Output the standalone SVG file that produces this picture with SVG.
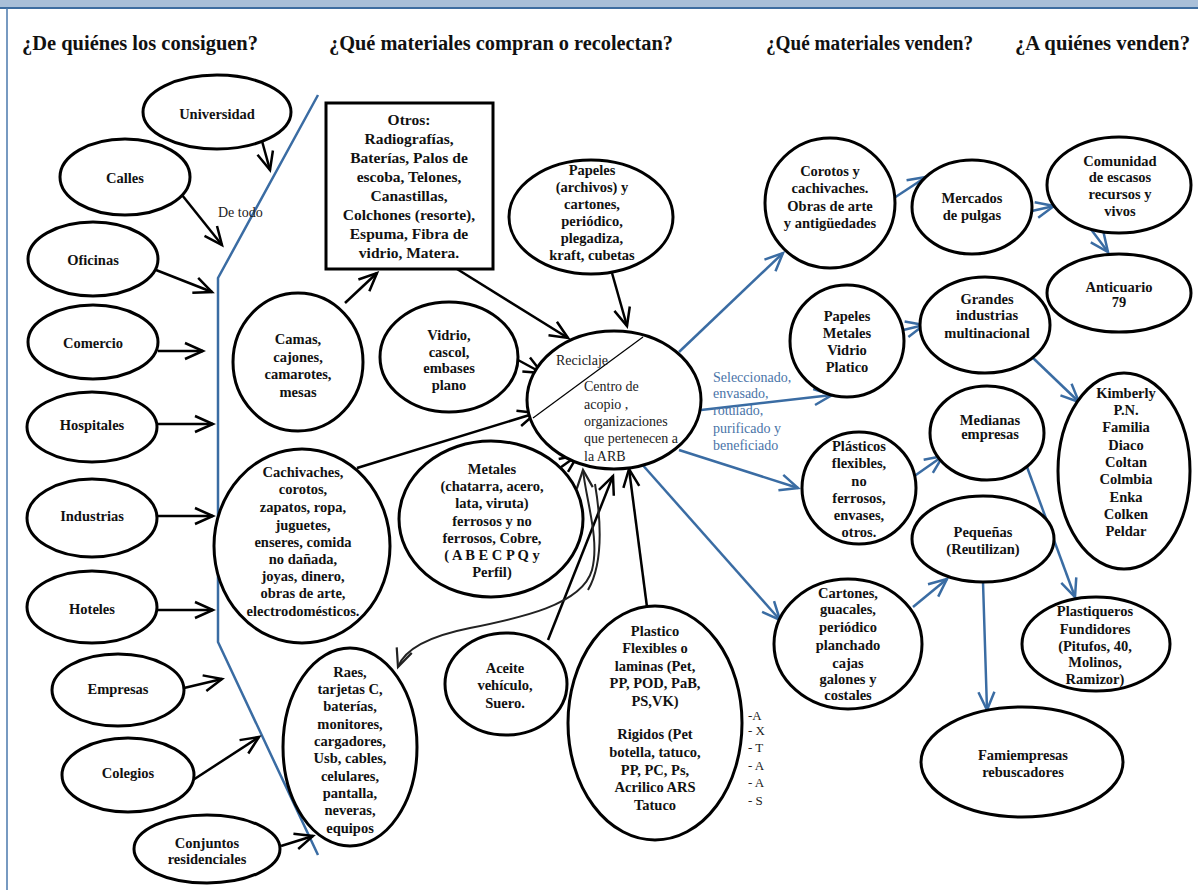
<svg xmlns="http://www.w3.org/2000/svg" width="1198" height="890" viewBox="0 0 1198 890">
  <style>
    .n ellipse, .n rect { fill: #fff; stroke: #000; stroke-width: 3; }
    .t { font-family: "Liberation Serif", "Times New Roman", serif; font-weight: 700; font-size: 14.5px; text-anchor: middle; fill: #111; }
    .big { font-size: 15.5px; }
    .h { font-family: "Liberation Serif", "Times New Roman", serif; font-weight: 700; font-size: 20px; fill: #111; }
    .plain { font-family: "Liberation Serif", "Times New Roman", serif; font-size: 14px; fill: #222; }
    .small { font-size: 13px; }
    .blue { fill: #4a74a8; }
    .k { fill: none; stroke: #000; stroke-width: 2.5; marker-end: url(#ah); }
    .b { fill: none; stroke: #3a6ca3; stroke-width: 2.5; marker-end: url(#ahb); }
    .c { fill: none; stroke: #222; stroke-width: 2; }
  </style>
  <defs>
    <marker id="ah" markerUnits="userSpaceOnUse" viewBox="-3 -3 24 22" markerWidth="24" markerHeight="22" refX="18" refY="8" orient="auto">
      <path d="M0,0 L18,8 L0,16" fill="none" stroke="#000" stroke-width="2.5"/>
    </marker>
    <marker id="ahb" markerUnits="userSpaceOnUse" viewBox="-3 -3 24 22" markerWidth="24" markerHeight="22" refX="18" refY="8" orient="auto">
      <path d="M0,0 L18,8 L0,16" fill="none" stroke="#3a6ca3" stroke-width="2.5"/>
    </marker>
    <marker id="ahc" markerUnits="userSpaceOnUse" viewBox="-3 -3 24 22" markerWidth="24" markerHeight="22" refX="18" refY="8" orient="auto-start-reverse">
      <path d="M0,0 L18,8 L0,16" fill="none" stroke="#222" stroke-width="2.2"/>
    </marker>
  </defs>

  <!-- page frame -->
  <rect x="0" y="0" width="1198" height="890" fill="#fff"/>
  <rect x="0" y="0" width="1198" height="8" fill="#a9bfd8"/>
  <line x1="0" y1="8" x2="1198" y2="8" stroke="#3e6da0" stroke-width="2"/>
  <line x1="7" y1="8" x2="7" y2="890" stroke="#4a78ac" stroke-width="1.5"/>

  <!-- column headings -->
  <g id="headings">
    <text class="h" x="22" y="50" textLength="236" lengthAdjust="spacingAndGlyphs">¿De quiénes los consiguen?</text>
    <text class="h" x="329" y="50" textLength="344" lengthAdjust="spacingAndGlyphs">¿Qué materiales compran o recolectan?</text>
    <text class="h" x="766" y="50" textLength="207" lengthAdjust="spacingAndGlyphs">¿Qué materiales venden?</text>
    <text class="h" x="1015" y="50" textLength="175" lengthAdjust="spacingAndGlyphs">¿A quiénes venden?</text>
  </g>

  <!-- dividing line between sources and materials -->
  <polyline points="318,95 218,278 218,642 318,855" fill="none" stroke="#3a6ca3" stroke-width="2.5"/>
  <text class="plain" x="218" y="217">De todo</text>

  <!-- connectors -->
  <g id="connectors">
    <line class="k" x1="262" y1="141" x2="270" y2="170"/>
    <line class="k" x1="182" y1="195" x2="222" y2="245"/>
    <line class="k" x1="156" y1="270" x2="212" y2="292"/>
    <line class="k" x1="158" y1="351" x2="203" y2="351"/>
    <line class="k" x1="158" y1="424" x2="213" y2="424"/>
    <line class="k" x1="158" y1="516" x2="213" y2="516"/>
    <line class="k" x1="158" y1="610" x2="213" y2="610"/>
    <line class="k" x1="184" y1="688" x2="222" y2="679"/>
    <line class="k" x1="193" y1="780" x2="259" y2="737"/>
    <line class="k" x1="281" y1="846" x2="313" y2="836"/>

    <line class="k" x1="345" y1="303" x2="377" y2="273"/>
    <line class="k" x1="457" y1="269" x2="568" y2="338"/>
    <line class="k" x1="612" y1="273" x2="627" y2="326"/>
    <line class="k" x1="518" y1="360" x2="542" y2="373"/>
    <line class="k" x1="357" y1="468" x2="536" y2="413"/>
    <line class="k" x1="557" y1="470" x2="578" y2="455"/>
    <line class="k" x1="548" y1="640" x2="613" y2="476"/>
    <line class="k" x1="647" y1="607" x2="629" y2="469"/>

    <path class="c" d="M583,470 C586,500 600,540 592,570 C582,605 520,618 470,628 C430,636 405,648 398,667" marker-start="url(#ahc)" marker-end="url(#ahc)"/>
    <path class="c" d="M595,484 C601,520 604,562 588,590"/>

    <line class="b" x1="679" y1="352" x2="783" y2="253"/>
    <line class="b" x1="894" y1="198" x2="926" y2="177"/>
    <line class="b" x1="1023" y1="213" x2="1054" y2="206"/>
    <line class="b" x1="1090" y1="228" x2="1108" y2="252"/>
    <line class="b" x1="701" y1="410" x2="832" y2="395"/>
    <line class="b" x1="895" y1="332" x2="924" y2="325"/>
    <line class="b" x1="1032" y1="357" x2="1079" y2="402"/>
    <line class="b" x1="679" y1="450" x2="798" y2="488"/>
    <line class="b" x1="913" y1="477" x2="943" y2="456"/>
    <line class="b" x1="1027" y1="467" x2="1075" y2="597"/>
    <line class="b" x1="640" y1="462" x2="780" y2="620"/>
    <line class="b" x1="913" y1="607" x2="947" y2="579"/>
    <line class="b" x1="983" y1="582" x2="987" y2="710"/>
  </g>

  <!-- sources -->
  <g id="n-universidad" class="n"><ellipse cx="217" cy="112" rx="74" ry="37"/><text class="t" x="217" y="119">Universidad</text></g>
  <g id="n-calles" class="n"><ellipse cx="125" cy="177" rx="65" ry="38"/><text class="t" x="125" y="183">Calles</text></g>
  <g id="n-oficinas" class="n"><ellipse cx="93" cy="259" rx="65" ry="37"/><text class="t" x="93" y="265">Oficinas</text></g>
  <g id="n-comercio" class="n"><ellipse cx="93" cy="342" rx="65" ry="37"/><text class="t" x="93" y="348">Comercio</text></g>
  <g id="n-hospitales" class="n"><ellipse cx="92" cy="427" rx="65" ry="35"/><text class="t" x="92" y="430">Hospitales</text></g>
  <g id="n-industrias" class="n"><ellipse cx="92" cy="518" rx="65" ry="39"/><text class="t" x="92" y="521">Industrias</text></g>
  <g id="n-hoteles" class="n"><ellipse cx="92" cy="607" rx="65" ry="36"/><text class="t" x="92" y="614">Hoteles</text></g>
  <g id="n-empresas" class="n"><ellipse cx="118" cy="690" rx="66" ry="36"/><text class="t" x="118" y="694">Empresas</text></g>
  <g id="n-colegios" class="n"><ellipse cx="128" cy="775" rx="66" ry="37"/><text class="t" x="128" y="778">Colegios</text></g>
  <g id="n-conjuntos" class="n"><ellipse cx="207" cy="849" rx="73" ry="34"/><text class="t" x="207" y="848">Conjuntos</text><text class="t" x="207" y="864">residenciales</text></g>

  <!-- materials bought or collected -->
  <g id="n-otros" class="n">
    <rect x="326" y="103" width="167" height="166"/>
    <text class="t big" x="409" y="125">Otros:</text>
    <text class="t big" x="409" y="144">Radiografías,</text>
    <text class="t big" x="409" y="163">Baterías, Palos de</text>
    <text class="t big" x="409" y="182">escoba, Telones,</text>
    <text class="t big" x="409" y="201">Canastillas,</text>
    <text class="t big" x="409" y="220">Colchones (resorte),</text>
    <text class="t big" x="409" y="239">Espuma, Fibra de</text>
    <text class="t big" x="409" y="258">vidrio, Matera.</text>
  </g>
  <g id="n-papeles" class="n">
    <ellipse cx="591" cy="217" rx="82" ry="57"/>
    <text class="t" x="592" y="175">Papeles</text>
    <text class="t" x="592" y="192">(archivos) y</text>
    <text class="t" x="592" y="209">cartones,</text>
    <text class="t" x="592" y="226">periódico,</text>
    <text class="t" x="592" y="243">plegadiza,</text>
    <text class="t" x="592" y="260">kraft, cubetas</text>
  </g>
  <g id="n-camas" class="n">
    <ellipse cx="298" cy="362" rx="65" ry="69"/>
    <text class="t" x="298" y="344">Camas,</text>
    <text class="t" x="298" y="362">cajones,</text>
    <text class="t" x="298" y="379">camarotes,</text>
    <text class="t" x="298" y="397">mesas</text>
  </g>
  <g id="n-vidrio" class="n">
    <ellipse cx="449" cy="357" rx="69" ry="55"/>
    <text class="t" x="449" y="340">Vidrio,</text>
    <text class="t" x="449" y="357">cascol,</text>
    <text class="t" x="449" y="373">embases</text>
    <text class="t" x="449" y="390">plano</text>
  </g>
  <g id="n-centro" class="n">
    <ellipse cx="614" cy="400" rx="87" ry="69"/>
    <line x1="643" y1="337" x2="533" y2="418" stroke="#000" stroke-width="1.2"/>
    <text class="plain" x="556" y="365">Reciclaje</text>
    <text class="plain" x="584" y="391">Centro de</text>
    <text class="plain" x="584" y="409">acopio ,</text>
    <text class="plain" x="584" y="426">organizaciones</text>
    <text class="plain" x="584" y="443">que pertenecen a</text>
    <text class="plain" x="584" y="461">la ARB</text>
  </g>
  <g id="n-cachivaches" class="n">
    <ellipse cx="302" cy="546" rx="88" ry="97"/>
    <text class="t" x="303" y="477">Cachivaches,</text>
    <text class="t" x="303" y="494">corotos,</text>
    <text class="t" x="303" y="512">zapatos, ropa,</text>
    <text class="t" x="303" y="530">juguetes,</text>
    <text class="t" x="303" y="547">enseres, comida</text>
    <text class="t" x="303" y="564">no dañada,</text>
    <text class="t" x="303" y="581">joyas, dinero,</text>
    <text class="t" x="303" y="598">obras de arte,</text>
    <text class="t" x="303" y="616">electrodomésticos.</text>
  </g>
  <g id="n-metales" class="n">
    <ellipse cx="491" cy="519" rx="92" ry="78"/>
    <text class="t" x="492" y="474">Metales</text>
    <text class="t" x="492" y="491">(chatarra, acero,</text>
    <text class="t" x="492" y="508">lata, viruta)</text>
    <text class="t" x="492" y="526">ferrosos y no</text>
    <text class="t" x="492" y="543">ferrosos, Cobre,</text>
    <text class="t" x="492" y="560">( A B E C P Q y</text>
    <text class="t" x="492" y="577">Perfil)</text>
  </g>
  <g id="n-raes" class="n">
    <ellipse cx="350" cy="747" rx="67" ry="99"/>
    <text class="t" x="350" y="677">Raes,</text>
    <text class="t" x="350" y="694">tarjetas C,</text>
    <text class="t" x="350" y="711">baterías,</text>
    <text class="t" x="350" y="729">monitores,</text>
    <text class="t" x="350" y="746">cargadores,</text>
    <text class="t" x="350" y="763">Usb, cables,</text>
    <text class="t" x="350" y="781">celulares,</text>
    <text class="t" x="350" y="798">pantalla,</text>
    <text class="t" x="350" y="815">neveras,</text>
    <text class="t" x="350" y="833">equipos</text>
  </g>
  <g id="n-aceite" class="n">
    <ellipse cx="506" cy="684" rx="61" ry="51"/>
    <text class="t" x="505" y="673">Aceite</text>
    <text class="t" x="505" y="690">vehículo,</text>
    <text class="t" x="505" y="708">Suero.</text>
  </g>
  <g id="n-plastico" class="n">
    <ellipse cx="655" cy="723" rx="87" ry="117"/>
    <text class="t" x="655" y="636">Plastico</text>
    <text class="t" x="655" y="653">Flexibles o</text>
    <text class="t" x="655" y="671">laminas (Pet,</text>
    <text class="t" x="655" y="688">PP, POD, PaB,</text>
    <text class="t" x="655" y="706">PS,VK)</text>
    <text class="t" x="655" y="739">Rigidos (Pet</text>
    <text class="t" x="655" y="757">botella, tatuco,</text>
    <text class="t" x="655" y="775">PP, PC, Ps,</text>
    <text class="t" x="655" y="792">Acrilico ARS</text>
    <text class="t" x="655" y="810">Tatuco</text>
  </g>
  <g id="axtaas">
    <text class="plain small" x="748" y="720">-A</text>
    <text class="plain small" x="748" y="735">- X</text>
    <text class="plain small" x="748" y="752">- T</text>
    <text class="plain small" x="748" y="770">- A</text>
    <text class="plain small" x="748" y="787">- A</text>
    <text class="plain small" x="748" y="805">- S</text>
  </g>

  <!-- materials sold -->
  <g id="treatment-label">
    <text class="plain blue" x="713" y="382">Seleccionado,</text>
    <text class="plain blue" x="713" y="398">envasado,</text>
    <text class="plain blue" x="713" y="415">rotulado,</text>
    <text class="plain blue" x="713" y="433">purificado y</text>
    <text class="plain blue" x="713" y="450">beneficiado</text>
  </g>
  <g id="n-corotos" class="n">
    <ellipse cx="830" cy="203" rx="65" ry="65"/>
    <text class="t" x="830" y="176">Corotos y</text>
    <text class="t" x="830" y="193">cachivaches.</text>
    <text class="t" x="830" y="211">Obras de arte</text>
    <text class="t" x="830" y="228">y antigüedades</text>
  </g>
  <g id="n-papmet" class="n">
    <ellipse cx="847" cy="341" rx="57" ry="56"/>
    <text class="t" x="847" y="321">Papeles</text>
    <text class="t" x="847" y="338">Metales</text>
    <text class="t" x="847" y="355">Vidrio</text>
    <text class="t" x="847" y="372">Platico</text>
  </g>
  <g id="n-plasticos" class="n">
    <ellipse cx="859" cy="488" rx="57" ry="56"/>
    <text class="t" x="859" y="451">Plásticos</text>
    <text class="t" x="859" y="468">flexibles,</text>
    <text class="t" x="859" y="486">no</text>
    <text class="t" x="859" y="503">ferrosos,</text>
    <text class="t" x="859" y="520">envases,</text>
    <text class="t" x="859" y="537">otros.</text>
  </g>
  <g id="n-cartones" class="n">
    <ellipse cx="848" cy="644" rx="74" ry="65"/>
    <text class="t" x="848" y="598">Cartones,</text>
    <text class="t" x="848" y="614">guacales,</text>
    <text class="t" x="848" y="632">periódico</text>
    <text class="t" x="848" y="650">planchado</text>
    <text class="t" x="848" y="668">cajas</text>
    <text class="t" x="848" y="684">galones y</text>
    <text class="t" x="848" y="700">costales</text>
  </g>

  <!-- buyers -->
  <g id="n-mercados" class="n">
    <ellipse cx="972" cy="207" rx="60" ry="47"/>
    <text class="t" x="972" y="203">Mercados</text>
    <text class="t" x="972" y="220">de pulgas</text>
  </g>
  <g id="n-comunidad" class="n">
    <ellipse cx="1119" cy="185" rx="72" ry="48"/>
    <text class="t" x="1120" y="166">Comunidad</text>
    <text class="t" x="1120" y="182">de escasos</text>
    <text class="t" x="1120" y="199">recursos y</text>
    <text class="t" x="1120" y="216">vivos</text>
  </g>
  <g id="n-anticuario" class="n">
    <ellipse cx="1119" cy="293" rx="72" ry="39"/>
    <text class="t" x="1119" y="292">Anticuario</text>
    <text class="t" x="1119" y="307">79</text>
  </g>
  <g id="n-grandes" class="n">
    <ellipse cx="985" cy="325" rx="65" ry="48"/>
    <text class="t" x="987" y="304">Grandes</text>
    <text class="t" x="987" y="320">industrias</text>
    <text class="t" x="987" y="338">multinacional</text>
  </g>
  <g id="n-kimberly" class="n">
    <ellipse cx="1124" cy="471" rx="66" ry="98"/>
    <text class="t" x="1126" y="398">Kimberly</text>
    <text class="t" x="1126" y="415">P.N.</text>
    <text class="t" x="1126" y="432">Familia</text>
    <text class="t" x="1126" y="450">Diaco</text>
    <text class="t" x="1126" y="467">Coltan</text>
    <text class="t" x="1126" y="484">Colmbia</text>
    <text class="t" x="1126" y="502">Enka</text>
    <text class="t" x="1126" y="519">Colken</text>
    <text class="t" x="1126" y="536">Peldar</text>
  </g>
  <g id="n-medianas" class="n">
    <ellipse cx="987" cy="433" rx="57" ry="47"/>
    <text class="t" x="990" y="425">Medianas</text>
    <text class="t" x="990" y="439">empresas</text>
  </g>
  <g id="n-pequenas" class="n">
    <ellipse cx="983" cy="539" rx="71" ry="43"/>
    <text class="t" x="983" y="537">Pequeñas</text>
    <text class="t" x="983" y="554">(Reutilizan)</text>
  </g>
  <g id="n-plastiqueros" class="n">
    <ellipse cx="1096" cy="644" rx="74" ry="47"/>
    <text class="t" x="1095" y="616">Plastiqueros</text>
    <text class="t" x="1095" y="634">Fundidores</text>
    <text class="t" x="1095" y="651">(Pitufos, 40,</text>
    <text class="t" x="1095" y="667">Molinos,</text>
    <text class="t" x="1095" y="684">Ramizor)</text>
  </g>
  <g id="n-famiempresas" class="n">
    <ellipse cx="1022" cy="762" rx="101" ry="55"/>
    <text class="t" x="1023" y="760">Famiempresas</text>
    <text class="t" x="1023" y="777">rebuscadores</text>
  </g>
</svg>
